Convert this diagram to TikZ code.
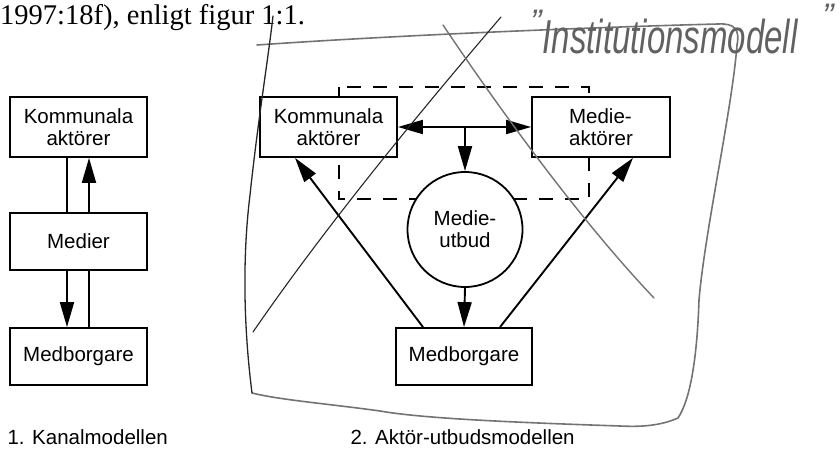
\documentclass[tikz,border=0pt]{standalone}
\usepackage{fontspec}
\setmainfont{Liberation Sans}
\newfontfamily\seriffont{Liberation Serif}
\usetikzlibrary{arrows.meta}
\begin{document}
\begin{tikzpicture}[x=1pt,y=-1pt,
  box/.style={draw,line width=1.8pt,fill=white,inner sep=0pt,font=\fontsize{20.5}{22}\selectfont,align=center},
  circ/.style={draw,circle,line width=1.8pt,fill=white,inner sep=0pt,minimum size=115pt,font=\fontsize{20.5}{22}\selectfont,align=center},
  arr/.style={line width=1.9pt,-{Triangle[length=25pt,width=14pt]}},
  darr/.style={line width=1.9pt,{Triangle[length=25pt,width=14pt]}-{Triangle[length=25pt,width=14pt]}},
  plain/.style={line width=1.8pt},
  dashrect/.style={line width=1.6pt,dash pattern=on 14pt off 12pt},
  pencil/.style={draw=black!55,line width=1.6pt,line cap=round,line join=round},
  pen/.style={draw=black!85,line width=1.3pt,line cap=round,line join=round},
  caption/.style={font=\fontsize{20.5}{22}\selectfont,anchor=base west},
  hand/.style={text=black!62,font=\fontsize{34}{34}\selectfont\itshape}]
\useasboundingbox (0,0) rectangle (840,449);

% top line of running text
\node[anchor=base west,font=\seriffont\fontsize{28.5}{30}\selectfont,inner sep=0pt] (toptext) at (0,25) {1997:18f), enligt figur 1:1.};

% ---------- model 1 ----------
\node[box,minimum width=137pt,minimum height=60pt] (K1) at (78.5,127) {Kommunala\\aktörer};
\node[box,minimum width=137pt,minimum height=57pt] (M1) at (78.5,241.5) {Medier};
\node[box,minimum width=137pt,minimum height=57pt] (B1) at (78.5,356.5) {Medborgare};
\draw[plain] ([xshift=-11.5pt]M1.north) -- ([xshift=-11.5pt]K1.south);
\draw[arr] ([xshift=10.5pt]M1.north) -- ([xshift=10.5pt]K1.south);
\draw[arr] ([xshift=-11.5pt]M1.south) -- ([xshift=-11.5pt]B1.north);
\draw[plain] ([xshift=10.5pt]B1.north) -- ([xshift=10.5pt]M1.south);
\node[caption] (cap1) at (4,444) {1. Kanalmodellen};

% ---------- model 2 ----------
\draw[dashrect] (339,87) rectangle (589,199);
\node[box,minimum width=137pt,minimum height=60pt] (K2) at (328.5,127) {Kommunala\\aktörer};
\node[box,minimum width=138pt,minimum height=60pt,align=left] (M2) at (601,127) {Medie-\\aktörer};
\node[circ] (C) at (465,229.5) {Medie-\\utbud};
\node[box,minimum width=136pt,minimum height=57pt] (B2) at (464,356.5) {Medborgare};
\draw[darr] (K2.east) -- (M2.west);
\draw[arr] (C.north |- K2.east) -- (C.north);
\draw[arr] (C.south) -- (B2.north);
\draw[arr] ([xshift=-41pt]B2.north) -- ([xshift=-33.5pt]K2.south);
\draw[arr] ([xshift=36pt]B2.north) -- ([xshift=32pt]M2.south);
\node[caption] (cap2) at (347,444) {2. Aktör-utbudsmodellen};

% ---------- hand-drawn additions ----------
\draw[pencil] (257,45) .. controls (400,35) and (600,27) .. (718,24)
  .. controls (735,23) and (740,30) .. (737,45)
  .. controls (732,110) and (705,230) .. (699,300)
  .. controls (697,360) and (690,400) .. (678,418)
  .. controls (660,426) and (640,427) .. (620,426)
  .. controls (500,422) and (420,418) .. (380,411)
  .. controls (330,404) and (280,400) .. (252,393);
\draw[pen] (252,393) .. controls (244,330) and (242,260) .. (250,195)
  .. controls (258,120) and (268,60) .. (273,16);
\draw[pen,line width=1.1pt] (501,17) .. controls (430,100) and (330,220) .. (253,332);
\draw[pencil,line width=1.4pt] (443,25) .. controls (500,110) and (580,220) .. (654,298);
\node[hand] (hw) at (670,37) {\scalebox{0.97}[1.4]{Institutionsmodell}};
\node[hand] (q1) at (536,22) {”};
\node[hand] (q2) at (828,16) {”};
\end{tikzpicture}
\end{document}
